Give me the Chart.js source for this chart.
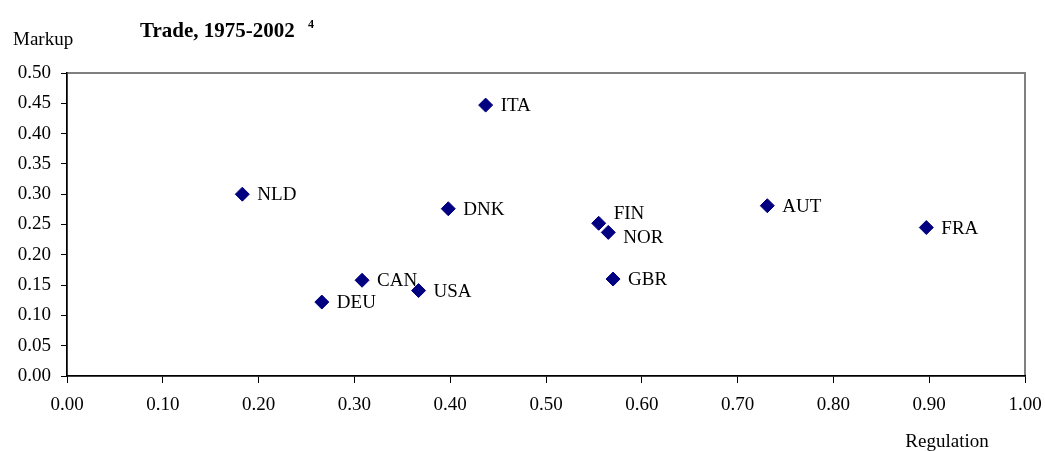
<!DOCTYPE html>
<html>
<head>
<meta charset="utf-8">
<script src="https://cdn.jsdelivr.net/npm/chart.js@4"></script>
<style>
  html, body { margin: 0; padding: 0; background: #fff; }
  canvas { display: block; }
</style>
</head>
<body>
<canvas id="myChart" width="1045" height="451"></canvas>
<script>
const countries = ['ITA', 'NLD', 'DNK', 'CAN', 'USA', 'DEU', 'FIN', 'NOR', 'AUT', 'FRA', 'GBR'];
const regulation = [0.437, 0.183, 0.398, 0.308, 0.367, 0.266, 0.555, 0.565, 0.731, 0.897, 0.570];
const markup = [0.447, 0.300, 0.276, 0.158, 0.141, 0.122, 0.252, 0.237, 0.281, 0.245, 0.160];

const serif = 'Liberation Serif, Times New Roman, serif';

// labels sit to the right of each marker; FIN and NOR were moved apart by hand
const labelShift = { FIN: -10, NOR: 5 };

const textPlugin = {
  id: 'textPlugin',
  beforeDraw(chart) {
    const { ctx, chartArea: a } = chart;
    ctx.save();
    ctx.strokeStyle = '#808080';
    ctx.lineWidth = 2;
    ctx.strokeRect(a.left, a.top, a.right - a.left, a.bottom - a.top);
    ctx.restore();
  },
  // labels go under the markers (USA diamond covers the end of CAN)
  beforeDatasetsDraw(chart) {
    const { ctx } = chart;
    const meta = chart.getDatasetMeta(0);
    ctx.save();
    ctx.font = '19px ' + serif;
    ctx.fillStyle = '#000';
    ctx.textBaseline = 'middle';
    ctx.textAlign = 'left';
    meta.data.forEach((pt, i) => {
      const name = countries[i];
      ctx.fillText(name, pt.x + 15, pt.y + 1 + (labelShift[name] || 0));
    });
    ctx.restore();
  },
  afterDraw(chart) {
    const { ctx } = chart;
    ctx.save();
    ctx.fillStyle = '#000';
    ctx.textBaseline = 'alphabetic';
    ctx.textAlign = 'left';
    ctx.font = 'bold 21px ' + serif;
    ctx.fillText('Trade, 1975-2002', 140, 37);
    ctx.font = 'bold 12px ' + serif;
    ctx.fillText('4', 308, 28);
    ctx.font = '19px ' + serif;
    ctx.fillText('Markup', 13, 45);
    ctx.textAlign = 'center';
    ctx.fillText('Regulation', 947, 447);
    ctx.restore();
  }
};

new Chart(document.getElementById('myChart'), {
  type: 'scatter',
  data: {
    datasets: [{
      label: 'Markup',
      data: countries.map((c, i) => ({ x: regulation[i], y: markup[i] })),
      pointStyle: 'rectRot',
      pointRadius: 7,
      pointHoverRadius: 7,
      backgroundColor: '#000080',
      borderColor: '#000080',
      borderWidth: 1
    }]
  },
  options: {
    responsive: false,
    animation: false,
    layout: { padding: { left: 0, right: 20, top: 73, bottom: 0 } },
    plugins: {
      legend: { display: false },
      tooltip: { enabled: false },
      title: { display: false }
    },
    scales: {
      x: {
        type: 'linear',
        min: 0,
        max: 1,
        afterFit(scale) {
          scale.height = 75;
          scale.paddingLeft = 0;
          scale.paddingRight = 0;
        },
        ticks: {
          stepSize: 0.1,
          autoSkip: false,
          maxRotation: 0,
          padding: 11,
          color: '#000',
          font: { family: serif, size: 19 },
          callback: v => Number(v).toFixed(2)
        },
        grid: { drawOnChartArea: false, drawTicks: true, tickLength: 7, color: '#000' },
        border: { color: '#000', width: 1.5 }
      },
      y: {
        min: 0,
        max: 0.5,
        afterFit(scale) {
          scale.width = 67;
          scale.paddingTop = 0;
          scale.paddingBottom = 0;
        },
        ticks: {
          stepSize: 0.05,
          autoSkip: false,
          padding: 10,
          color: '#000',
          font: { family: serif, size: 19 },
          callback: v => Number(v).toFixed(2)
        },
        grid: { drawOnChartArea: false, drawTicks: true, tickLength: 6, color: '#000' },
        border: { color: '#000', width: 1.5 }
      }
    }
  },
  plugins: [textPlugin]
});
</script>
</body>
</html>
